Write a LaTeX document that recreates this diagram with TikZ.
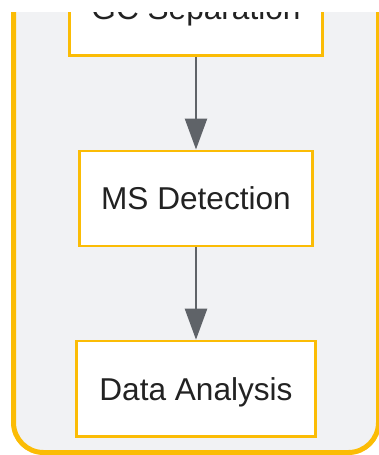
\documentclass[tikz,border=0pt]{standalone}
\usepackage{fontspec}
\setmainfont{Liberation Sans}
\usetikzlibrary{arrows.meta}

\definecolor{stepyellow}{HTML}{FBBC05}
\definecolor{panelgray}{HTML}{F1F2F4}
\definecolor{arrowgray}{HTML}{5F6368}
\definecolor{labelgray}{HTML}{222222}

\begin{document}
\begin{tikzpicture}[x=1pt, y=-1pt,
    stage/.style={draw=stepyellow, line width=2.5pt, fill=white, inner sep=0pt,
      minimum height=95.3pt, text=labelgray, text height=26pt, text depth=3pt,
      font=\fontsize{31.6}{36}\selectfont},
    flow/.style={draw=arrowgray, line width=2.5pt, -{Triangle[length=31pt, width=22pt]}}]

  \useasboundingbox (0, 0) rectangle (379, 455);

  \begin{scope}
    \clip (0, 12) rectangle (379, 455);

    % panel round the steps
    \draw[fill=panelgray, draw=stepyellow, line width=5pt, rounded corners=30pt]
      (13.5, -80) rectangle (378.5, 452.5);

    \node[stage, minimum width=252.8pt] (gc) at (196, 8) {GC Separation};
    \node[stage, minimum width=233pt]   (ms) at (196, 198.4) {MS Detection};
    \node[stage, minimum width=238.7pt] (da) at (196, 388.6) {Data Analysis};

    \draw[flow] (gc) -- (ms);
    \draw[flow] (ms) -- (da);
  \end{scope}

\end{tikzpicture}
\end{document}
